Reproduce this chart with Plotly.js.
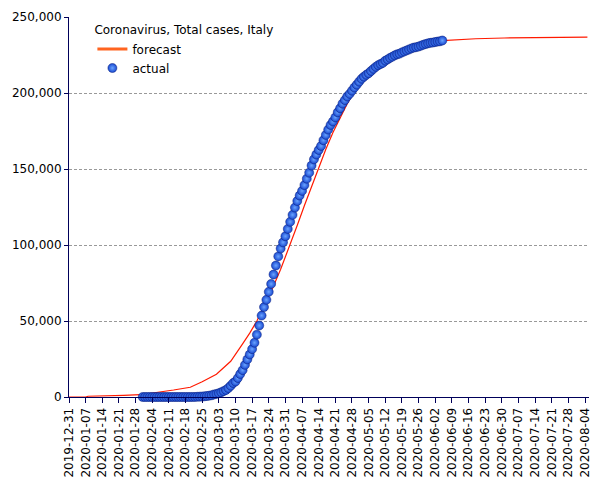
<!DOCTYPE html>
<html>
<head>
<meta charset="utf-8">
<script src="https://cdn.plot.ly/plotly-3.0.1.min.js"></script>
<style>html,body{margin:0;padding:0;background:#fff;}#chart{width:605px;height:480px;}</style>
</head>
<body>
<div id="chart"></div>
<script>
// Actual total cases, Italy, daily from 2020-01-31
const actualStart = '2020-01-31';
const actualValues = [
  2, 2, 2, 2, 2, 2, 3, 3, 3, 3, 3, 3, 3, 3, 3, 3, 3, 3, 3, 3, 3,
  20, 62, 155, 229, 322, 453, 655, 888, 1128,
  1694, 2036, 2502, 3089, 3858, 4636, 5883, 7375, 9172, 10149,
  12462, 15113, 17660, 21157, 24747, 27980, 31506, 35713, 41035, 47021,
  53578, 59138, 63927, 69176, 74386, 80589, 86498, 92472, 97689, 101739, 105792,
  110574, 115242, 119827, 124632, 128948, 132547, 135586, 139422, 143626, 147577,
  152271, 156363, 159516, 162488, 165155, 168941, 172434, 175925, 178972, 181228,
  183957, 187327, 189973, 192994, 195351, 197675, 199414, 201505, 203591, 205463,
  207428, 209328, 210717, 211938, 213013, 214457, 215858, 217185, 218268, 219070,
  219814, 221216, 222104, 223096, 223885, 224760, 225435, 225886, 226699, 227364,
  228006, 228658, 229327, 229858, 230158, 230555, 231139, 231732, 232248, 232664,
  232997, 233197, 233515, 233836, 234013, 234531
];

// Forecast curve
const forecastDates = [
  '2019-12-31', '2020-01-07', '2020-01-08', '2020-01-22', '2020-01-23', '2020-01-30',
  '2020-02-06', '2020-02-13', '2020-02-20', '2020-02-25', '2020-03-02', '2020-03-08',
  '2020-03-13', '2020-03-16', '2020-03-19', '2020-03-23', '2020-03-26', '2020-03-29',
  '2020-04-02', '2020-04-05', '2020-04-08', '2020-04-11', '2020-04-14', '2020-04-17',
  '2020-04-20', '2020-04-23', '2020-04-26', '2020-04-29', '2020-05-02', '2020-05-05',
  '2020-05-09', '2020-05-14', '2020-05-19', '2020-05-24', '2020-05-29', '2020-06-05',
  '2020-06-12', '2020-06-19', '2020-07-01', '2020-07-20', '2020-08-05'
];
const forecastValues = [
  0, 0, 500, 700, 1100, 1500,
  2800, 4600, 6400, 10000, 15000, 23500,
  35000, 42000, 50000, 63000, 73000, 84000,
  100000, 113000, 126000, 138500, 151000, 163000,
  174000, 184000, 193000, 201000, 207500, 213000,
  219000, 224500, 228500, 231000, 233000, 234500,
  235200, 235700, 236200, 236600, 236800
];

// Tick settings
const yTickFormat = ',d';
const xTickFormat = '%Y-%m-%d';

function buildDates(start, n) {
  const out = [];
  const d0 = new Date(start + 'T00:00:00Z');
  for (let i = 0; i < n; i++) {
    const d = new Date(d0.getTime() + i * 86400000);
    out.push(d.toISOString().slice(0, 10));
  }
  return out;
}
const actualDates = buildDates(actualStart, actualValues.length);

const navy = '#00005a';

const traces = [
  {
    type: 'scatter', mode: 'lines', name: 'forecast',
    x: forecastDates, y: forecastValues,
    line: {color: '#ff1a00', width: 1.2},
    showlegend: false,
    hoverinfo: 'skip'
  },
  {
    // legend entry for forecast (thicker orange swatch as in the reference)
    type: 'scatter', mode: 'lines', name: 'forecast',
    x: [null], y: [null],
    line: {color: '#ff6420', width: 3},
    hoverinfo: 'skip'
  },
  {
    type: 'scatter', mode: 'markers', name: 'actual',
    x: actualDates, y: actualValues,
    cliponaxis: false,
    marker: {
      size: 9, color: '#1848d0',
      gradient: {type: 'radial', color: '#6aa4ff'},
      line: {color: '#0a1f7a', width: 0.5}
    }
  }
];

const layout = {
  width: 605, height: 480,
  margin: {l: 69, r: 16, t: 17, b: 83},
  paper_bgcolor: '#ffffff', plot_bgcolor: '#ffffff',
  font: {family: 'DejaVu Sans, sans-serif', size: 12, color: '#000'},
  showlegend: true,
  legend: {
    x: 0.045, y: 0.995, xanchor: 'left', yanchor: 'top',
    bgcolor: 'rgba(0,0,0,0)',
    title: {text: 'Coronavirus, Total cases, Italy', font: {size: 12}},
    font: {size: 12},
    tracegroupgap: 0
  },
  xaxis: {
    type: 'date',
    range: ['2019-12-31', '2020-08-05 16:00'],
    tick0: '2019-12-31', dtick: 7 * 86400000,
    tickformat: xTickFormat, tickangle: -90,
    showgrid: false, zeroline: false,
    showline: true, linecolor: navy, linewidth: 1,
    ticks: 'outside', ticklen: 5, tickcolor: navy,
    tickfont: {size: 12}
  },
  yaxis: {
    range: [0, 250000], dtick: 50000, tickformat: yTickFormat,
    showgrid: true, gridcolor: '#999999', griddash: '3px,2px', gridwidth: 1,
    zeroline: false,
    showline: true, linecolor: navy, linewidth: 1,
    ticks: 'outside', ticklen: 4, tickcolor: navy,
    tickfont: {size: 12}
  }
};

Plotly.newPlot('chart', traces, layout, {displayModeBar: false, staticPlot: true});
</script>
</body>
</html>
